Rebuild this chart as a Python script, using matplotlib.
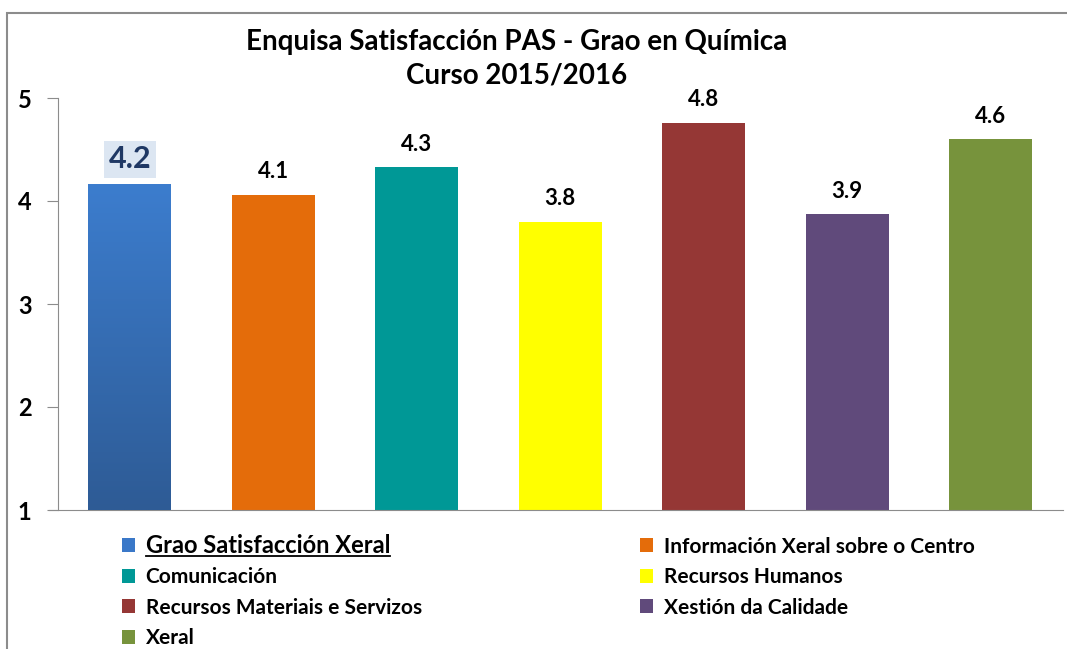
import numpy as np
import matplotlib.pyplot as plt
from matplotlib.patches import Patch, Rectangle
from matplotlib.lines import Line2D
from matplotlib.colors import LinearSegmentedColormap

plt.rcParams['font.family'] = ['Lato', 'DejaVu Sans']
plt.rcParams['font.weight'] = 'bold'

categories = ['Grao Satisfacción Xeral', 'Información Xeral sobre o Centro', 'Comunicación',
              'Recursos Humanos', 'Recursos Materiais e Servizos', 'Xestión da Calidade', 'Xeral']
values = [4.16, 4.06, 4.33, 3.80, 4.76, 3.87, 4.60]
colors = ['#3A78C8', '#E46C0A', '#009896', '#FFFF00', '#953735', '#604A7B', '#77933C']
yticks = [1, 2, 3, 4, 5]
title = 'Enquisa Satisfacción PAS - Grao en Química\nCurso 2015/2016'

W, H = 1067, 649
fig = plt.figure(figsize=(W / 100, H / 100), dpi=100)
ax = fig.add_axes([58 / W, 1 - 510 / H, (1062.5 - 58) / W, (510 - 98) / H])

x = np.arange(len(values))
bars = ax.bar(x, values, width=0.575, color=colors, zorder=2)

# gradient on the first bar
b0 = bars[0]
grad = np.linspace(1, 0, 256).reshape(-1, 1)
cmap = LinearSegmentedColormap.from_list('bl', ['#2E5B95', '#3C7DCE'])
ax.imshow(grad, cmap=cmap, aspect='auto', zorder=3,
          extent=(b0.get_x(), b0.get_x() + b0.get_width(), 1, b0.get_height()))

ax.set_xlim(-0.5, len(values) - 0.5)
ax.set_ylim(1, 5)
ax.set_yticks(yticks)
ax.set_yticklabels([str(t) for t in yticks], fontsize=17, fontweight='bold')
ax.set_xticks([])
for s in ['top', 'right']:
    ax.spines[s].set_visible(False)
ax.spines['left'].set_color('#8C8C8C')
ax.spines['bottom'].set_color('#8C8C8C')
ax.spines['bottom'].set_bounds(-0.56, len(values) - 0.5)
ax.tick_params(axis='y', length=8, color='#8C8C8C', pad=11)

for i, v in enumerate(values):
    if i == 0:
        ax.text(i, v + 0.11, f'{v:.1f}', ha='center', va='bottom', fontsize=22,
                fontweight='bold', color='#1F3864',
                bbox=dict(boxstyle='square,pad=0.15', fc='#DCE6F2', ec='none'))
    else:
        ax.text(i, v + 0.12, f'{v:.1f}', ha='center', va='bottom', fontsize=16,
                fontweight='bold', color='black')

fig.text(517 / W, 1 - 59 / H, title, ha='center', va='center', fontsize=20,
         fontweight='bold', linespacing=1.35)

# legend, row-major order like the original
order = [0, 2, 4, 6, 1, 3, 5]
handles = [Patch(facecolor=colors[i], edgecolor='none') for i in order]
labels = [categories[i] for i in order]
leg = fig.legend(handles, labels, ncol=2, loc='upper left',
                 bbox_to_anchor=(103 / W, 1 - 515 / H), frameon=False,
                 prop={'size': 15, 'weight': 'bold'}, handlelength=0.65,
                 handleheight=0.65, handletextpad=0.5, labelspacing=0.5,
                 columnspacing=10.45)
leg.get_texts()[0].set_fontsize(17)

# underline first legend entry
fig.canvas.draw()
bb = leg.get_texts()[0].get_window_extent().transformed(fig.transFigure.inverted())
fig.add_artist(Line2D([bb.x0, bb.x1], [bb.y0 + 0.001, bb.y0 + 0.001],
                      color='black', lw=1.3, transform=fig.transFigure))

# outer chart frame
fig.add_artist(Rectangle((7 / W, -0.05), 1.2, 1.05 - 13 / H, transform=fig.transFigure,
                         fill=False, edgecolor='#8C8C8C', lw=1.5, clip_on=False))

fig.savefig('out.png', dpi=100)
